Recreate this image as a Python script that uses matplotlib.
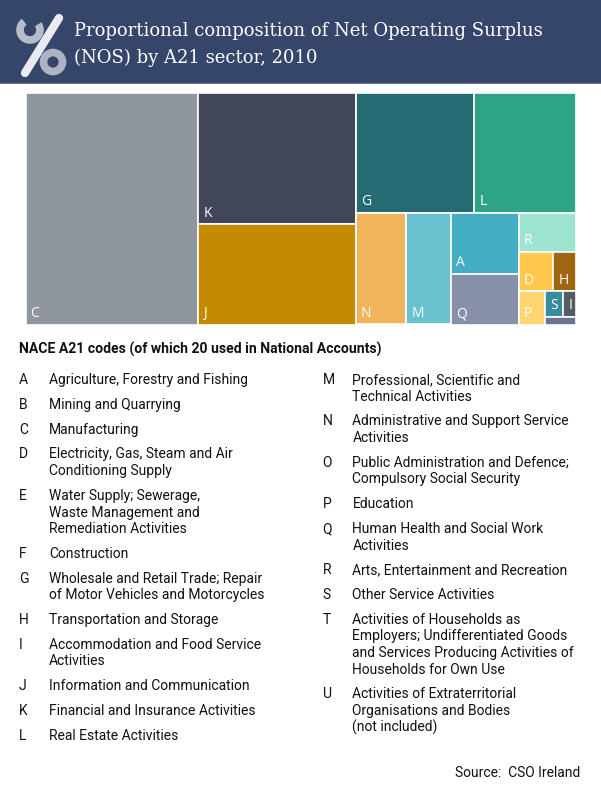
import matplotlib
matplotlib.use('Agg')
import matplotlib.pyplot as plt
from matplotlib.patches import Rectangle, Arc, Circle
from matplotlib.lines import Line2D

# ---------------- data ----------------
sectors = ['C', 'K', 'J', 'G', 'L', 'N', 'M', 'A', 'Q', 'R', 'D', 'H', 'P', 'S', 'I', 'F']
shares = [31.40, 16.24, 12.40, 11.16, 9.56, 4.43, 3.92, 3.22, 2.70, 1.73, 1.07, 0.69, 0.69, 0.36, 0.25, 0.19]
sector_colors = ['#8f969d', '#414658', '#c58a00', '#256b74', '#2ea486', '#f0b45d', '#6ac0cf',
                 '#45adc3', '#8790a8', '#9ce3d0', '#ffc84b', '#a0660f', '#ffd572', '#348c9c',
                 '#555b63', '#6b7394']

codes_left = ['A', 'B', 'C', 'D', 'E', 'F', 'G', 'H', 'I', 'J', 'K', 'L']
names_left = ['Agriculture, Forestry and Fishing',
              'Mining and Quarrying',
              'Manufacturing',
              'Electricity, Gas, Steam and Air\nConditioning Supply',
              'Water Supply; Sewerage,\nWaste Management and\nRemediation Activities',
              'Construction',
              'Wholesale and Retail Trade; Repair\nof Motor Vehicles and Motorcycles',
              'Transportation and Storage',
              'Accommodation and Food Service\nActivities',
              'Information and Communication',
              'Financial and Insurance Activities',
              'Real Estate Activities']
codes_right = ['M', 'N', 'O', 'P', 'Q', 'R', 'S', 'T', 'U']
names_right = ['Professional, Scientific and\nTechnical Activities',
               'Administrative and Support Service\nActivities',
               'Public Administration and Defence;\nCompulsory Social Security',
               'Education',
               'Human Health and Social Work\nActivities',
               'Arts, Entertainment and Recreation',
               'Other Service Activities',
               'Activities of Households as\nEmployers; Undifferentiated Goods\nand Services Producing Activities of\nHouseholds for Own Use',
               'Activities of Extraterritorial\nOrganisations and Bodies\n(not included)']

title_lines = ['Proportional composition of Net Operating Surplus',
               '(NOS) by A21 sector, 2010']
legend_title = 'NACE A21 codes (of which 20 used in National Accounts)'
source_text = 'Source:  CSO Ireland'

# nested grouping of the treemap (h = side by side, v = stacked)
layout = ('h', ['C', ('v', ['K', 'J']),
                ('v', [('h', ['G', 'L']),
                       ('h', ['N', 'M', ('v', ['A', 'Q']),
                              ('v', ['R', ('h', ['D', 'H']),
                                     ('h', ['P', ('v', [('h', ['S', 'I']), 'F'])])])])])])

# ---------------- figure ----------------
W, H = 601, 800
fig = plt.figure(figsize=(W / 100, H / 100), dpi=100)
ax = fig.add_axes([0, 0, 1, 1])
ax.set_xlim(0, W)
ax.set_ylim(H, 0)
ax.axis('off')

# header
ax.add_patch(Rectangle((0, 0), W, 82.5, color='#36466b', lw=0))
ax.add_patch(Rectangle((0, 82.5), W, 1.8, color='#66739a', lw=0))

# logo
ax.add_patch(Arc((30, 30), 20, 20, theta1=-35, theta2=235, color='#b7bccb', lw=5.5))
ax.add_patch(Circle((53, 62), 9.5, fill=False, ec='#aeb4c6', lw=5.5))
ax.add_line(Line2D([59, 25], [18, 73], color='#e9ebf1', lw=6, solid_capstyle='round'))

for i, t in enumerate(title_lines):
    ax.text(74, 36 + 27 * i, t, family='DejaVu Serif', fontsize=13, color='white', va='baseline')

# treemap
val = dict(zip(sectors, shares))
col = dict(zip(sectors, sector_colors))


def total(node):
    if isinstance(node, str):
        return val[node]
    return sum(total(k) for k in node[1])


def place(node, x, y, w, h, out):
    if isinstance(node, str):
        out[node] = (x, y, w, h)
        return
    d, kids = node
    t = total(node)
    pos = 0.0
    for k in kids:
        f = total(k) / t
        if d == 'h':
            place(k, x + pos, y, w * f, h, out)
            pos += w * f
        else:
            place(k, x, y + pos, w, h * f, out)
            pos += h * f


rects = {}
place(layout, 25.5, 92.5, 550.3, 232.0, rects)
for s in sectors:
    x, y, w, h = rects[s]
    ax.add_patch(Rectangle((x, y), w, h, facecolor=col[s], edgecolor='white', lw=1.2))
    if h >= 14 and w >= 10:
        ax.text(x + 5, y + h - 7.5, s, family='Open Sans', fontsize=10, color='white', va='baseline')

# legend
ax.text(19, 354, legend_title, family='Roboto', fontweight='bold', fontsize=10.1, color='#111111', va='baseline')


def draw_column(codes, names, xc, xt, y0):
    y = y0
    for c, n in zip(codes, names):
        ax.text(xc, y, c, family='Roboto', fontsize=10, color='#111111', va='baseline')
        lines = n.split('\n')
        for j, ln in enumerate(lines):
            ax.text(xt, y + 16.7 * j, ln, family='Roboto', fontsize=10, color='#111111', va='baseline')
        y += 24.7 + 16.7 * (len(lines) - 1)


draw_column(codes_left, names_left, 19, 49, 384.3)
draw_column(codes_right, names_right, 322.5, 352.5, 384.0)

ax.text(580.5, 777, source_text, family='Roboto', fontsize=10, color='#111111', va='baseline', ha='right')

fig.savefig('out.png', dpi=100, facecolor='white')
